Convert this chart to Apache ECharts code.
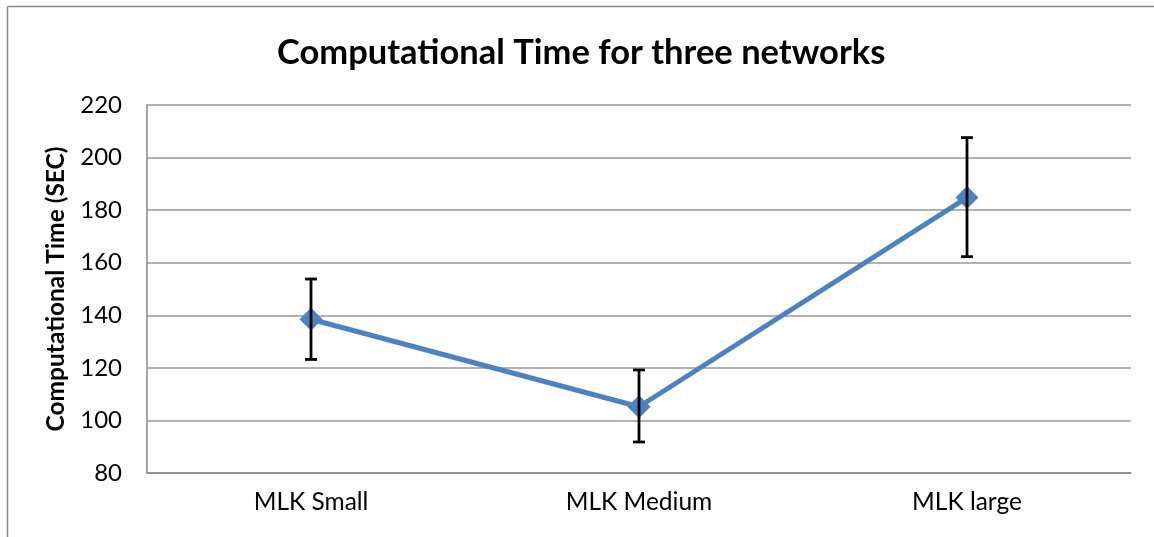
<!DOCTYPE html>
<html>
<head>
<meta charset="utf-8">
<script src="https://cdn.jsdelivr.net/npm/echarts@6/dist/echarts.min.js"></script>
<style>
html,body{margin:0;padding:0;background:#fff;}
#chart{width:1154px;height:537px;}
</style>
</head>
<body>
<div id="chart"></div>
<script>
const categories = ['MLK Small', 'MLK Medium', 'MLK large'];
const meanValues = [138.5, 105.2, 184.8];
const errorLow = [123.2, 91.8, 162.3];
const errorHigh = [153.8, 119.2, 207.6];
const yTicks = [80, 100, 120, 140, 160, 180, 200, 220];

const FONT = 'Lato';
const chart = echarts.init(document.getElementById('chart'));
const errorData = categories.map((c, i) => [i, errorLow[i], errorHigh[i]]);

chart.setOption({
  animation: false,
  backgroundColor: '#fff',
  title: {
    text: 'Computational Time for three networks',
    left: 272,
    top: 30,
    textStyle: { fontFamily: FONT, fontWeight: 'bold', fontSize: 34.5, color: '#000' }
  },
  graphic: [
    { type: 'line', shape: { x1: 7.5, y1: 6.5, x2: 7.5, y2: 537 }, style: { stroke: '#868686', lineWidth: 1.5 } },
    { type: 'line', shape: { x1: 7.5, y1: 6.5, x2: 1154, y2: 6.5 }, style: { stroke: '#868686', lineWidth: 1.5 } }
  ],
  grid: { left: 147, top: 105, right: 23, bottom: 64, containLabel: false },
  xAxis: {
    type: 'category',
    data: categories,
    boundaryGap: true,
    axisLine: { show: true, lineStyle: { color: '#888', width: 1.5 } },
    axisTick: { show: false },
    axisLabel: { fontFamily: FONT, fontSize: 24.5, color: '#000', margin: 17 }
  },
  yAxis: {
    type: 'value',
    min: yTicks[0],
    max: yTicks[yTicks.length - 1],
    interval: 20,
    name: 'Computational Time (SEC)',
    nameLocation: 'middle',
    nameGap: 78,
    nameTextStyle: { fontFamily: FONT, fontWeight: 'bold', fontSize: 24.5, color: '#000' },
    axisLine: { show: true, lineStyle: { color: '#888', width: 1.5 } },
    axisTick: { show: false },
    splitLine: { show: true, lineStyle: { color: '#999', width: 1.5 } },
    axisLabel: { fontFamily: FONT, fontSize: 24, color: '#000', margin: 25 }
  },
  series: [
    {
      type: 'line',
      data: meanValues,
      z: 3,
      symbol: 'diamond',
      symbolSize: 23,
      lineStyle: { color: '#4F81BD', width: 5 },
      itemStyle: { color: '#4F81BD' }
    },
    {
      type: 'custom',
      z: 5,
      data: errorData,
      renderItem: function (params, api) {
        const x = api.value(0);
        const lo = api.coord([x, api.value(1)]);
        const hi = api.coord([x, api.value(2)]);
        const hw = 6;
        const st = { stroke: '#000', lineWidth: 2.8 };
        return {
          type: 'group',
          children: [
            { type: 'line', shape: { x1: hi[0], y1: hi[1], x2: lo[0], y2: lo[1] }, style: st },
            { type: 'line', shape: { x1: hi[0] - hw, y1: hi[1], x2: hi[0] + hw, y2: hi[1] }, style: st },
            { type: 'line', shape: { x1: lo[0] - hw, y1: lo[1], x2: lo[0] + hw, y2: lo[1] }, style: st }
          ]
        };
      }
    }
  ]
});
</script>
</body>
</html>
